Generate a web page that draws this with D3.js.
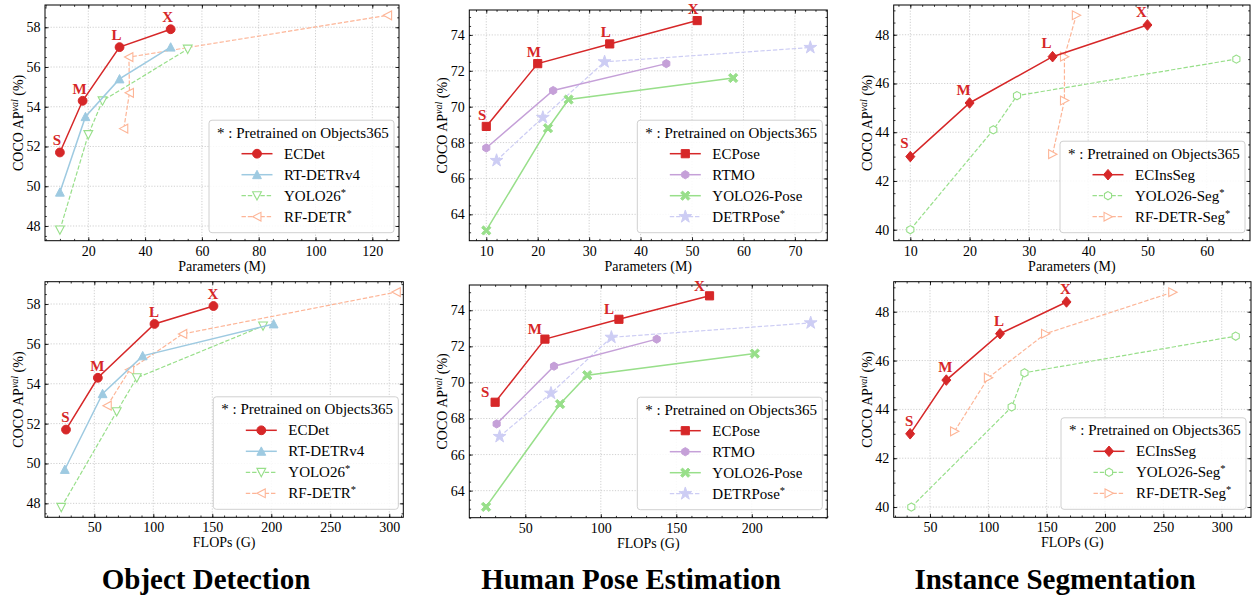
<!DOCTYPE html>
<html><head><meta charset="utf-8">
<script src="https://cdn.jsdelivr.net/npm/d3@7"></script>
<style>body{margin:0;background:#fff} svg text{font-family:"Liberation Serif","Times New Roman",serif;fill:#000}</style>
</head><body><svg id="c" width="1255" height="598"></svg>
<script>
// ---------------- data ----------------
const sizeLabels = ["S", "M", "L", "X"];
// Object detection
const ecdetParams = [10, 18, 31, 49];
const ecdetFlops = [26, 53, 101, 151];
const ecdetAP = [51.7, 54.3, 57.0, 57.9];
const rtdetrParams = [10, 19, 31, 49];
const rtdetrFlops = [25, 57, 91, 202];
const rtdetrAP = [49.7, 53.5, 55.4, 57.0];
const yolo26Params = [10, 20, 25, 55];
const yolo26Flops = [22, 69, 86, 193];
const yolo26AP = [47.8, 52.6, 54.3, 56.9];
const rfdetrParams = [32.5, 34.5, 34.3, 125.4];
const rfdetrFlops = [61, 80, 125, 306];
const rfdetrAP = [52.9, 54.7, 56.5, 58.6];
// Human pose estimation
const ecposeParams = [10, 20, 34, 51];
const ecposeFlops = [30, 63, 112, 172];
const ecposeAP = [68.9, 72.4, 73.5, 74.8];
const rtmoParams = [10, 23, 45];
const rtmoFlops = [31, 69, 137];
const rtmoAP = [67.7, 70.9, 72.4];
const yoloPoseParams = [10, 22, 26, 58];
const yoloPoseFlops = [24, 73, 91, 202];
const yoloPoseAP = [63.1, 68.8, 70.4, 71.6];
const detrposeParams = [12, 21, 33, 73];
const detrposeFlops = [33, 67, 107, 239];
const detrposeAP = [67.0, 69.4, 72.5, 73.3];
// Instance segmentation
const ecsegParams = [10, 20, 34, 50];
const ecsegFlops = [33, 64, 110, 167];
const ecsegAP = [43.0, 45.2, 47.1, 48.4];
const yoloSegParams = [10, 24, 28, 65];
const yoloSegFlops = [34, 120, 131, 312];
const yoloSegAP = [40.0, 44.1, 45.5, 47.0];
const rfSegParams = [34, 36, 36, 38];
const rfSegFlops = [71, 100, 149, 258];
const rfSegAP = [43.1, 45.3, 47.1, 48.8];
// tick labels
const detParamTicks = [20, 40, 60, 80, 100, 120];
const detFlopTicks = [50, 100, 150, 200, 250, 300];
const detAPTicks = [48, 50, 52, 54, 56, 58];
const poseParamTicks = [10, 20, 30, 40, 50, 60, 70];
const poseFlopTicks = [50, 100, 150, 200];
const poseAPTicks = [64, 66, 68, 70, 72, 74];
const segParamTicks = [10, 20, 30, 40, 50, 60];
const segFlopTicks = [50, 100, 150, 200, 250, 300];
const segAPTicks = [40, 42, 44, 46, 48];
const taskTitles = ["Object Detection", "Human Pose Estimation", "Instance Segmentation"];
const legendTitle = "* : Pretrained on Objects365";

// ---------------- styles ----------------
const RED = "#d62728", BLUE = "#9ecae1", GREEN = "#98df8a", SALMON = "#fdb597",
      LILAC = "#c5a0d8", LAV = "#cdcdf4";

function S(name, star, color, marker, filled, dashed, labels) {
  return {name, star, color, marker, filled, dashed, labels};
}
const detSeries = [
  S("ECDet", false, RED, "circle", true, false, true),
  S("RT-DETRv4", false, BLUE, "triup", true, false, false),
  S("YOLO26", true, GREEN, "tridown", false, true, false),
  S("RF-DETR", true, SALMON, "trileft", false, true, false)];
const poseSeries = [
  S("ECPose", false, RED, "square", true, false, true),
  S("RTMO", false, LILAC, "hex", true, false, false),
  S("YOLO26-Pose", false, GREEN, "xmark", true, false, false),
  S("DETRPose", true, LAV, "star", true, true, false)];
const segSeries = [
  S("ECInsSeg", false, RED, "diamond", true, false, true),
  S("YOLO26-Seg", true, GREEN, "hex", false, true, false),
  S("RF-DETR-Seg", true, SALMON, "triright", false, true, false)];

const panels = [
  {x0:45, x1:399, y0:5, y1:240.7, xd:[4.75,129.4], yd:[47.26,59.12], xt:detParamTicks, yt:detAPTicks, xs:20, ys:2, xn:4, yn:4,
   xl:"Parameters (M)", series:detSeries, xs_:[ecdetParams, rtdetrParams, yolo26Params, rfdetrParams], ys_:[ecdetAP, rtdetrAP, yolo26AP, rfdetrAP], lo:[-3,-12]},
  {x0:469.3, x1:827.3, y0:10, y1:240.7, xd:[6.7,76.3], yd:[62.53,75.39], xt:poseParamTicks, yt:poseAPTicks, xs:10, ys:2, xn:5, yn:4,
   xl:"Parameters (M)", series:poseSeries, xs_:[ecposeParams, rtmoParams, yoloPoseParams, detrposeParams], ys_:[ecposeAP, rtmoAP, yoloPoseAP, detrposeAP], lo:[-4,-11.5]},
  {x0:893.7, x1:1250, y0:5, y1:240.7, xd:[7.2,67.3], yd:[39.55,49.22], xt:segParamTicks, yt:segAPTicks, xs:10, ys:2, xn:5, yn:4,
   xl:"Parameters (M)", series:segSeries, xs_:[ecsegParams, yoloSegParams, rfSegParams], ys_:[ecsegAP, yoloSegAP, rfSegAP], lo:[-6,-13.3]},
  {x0:45, x1:403.3, y0:281.7, y1:517.3, xd:[8.2,311.9], yd:[47.3,59.12], xt:detFlopTicks, yt:detAPTicks, xs:50, ys:2, xn:5, yn:4,
   xl:"FLOPs (G)", series:detSeries, xs_:[ecdetFlops, rtdetrFlops, yolo26Flops, rfdetrFlops], ys_:[ecdetAP, rtdetrAP, yolo26AP, rfdetrAP], lo:[-0.5,-12.2]},
  {x0:469.3, x1:827.3, y0:285, y1:517.7, xd:[12.9,250], yd:[62.5,75.4], xt:poseFlopTicks, yt:poseAPTicks, xs:50, ys:2, xn:5, yn:4,
   xl:"FLOPs (G)", series:poseSeries, xs_:[ecposeFlops, rtmoFlops, yoloPoseFlops, detrposeFlops], ys_:[ecposeAP, rtmoAP, yoloPoseAP, detrposeAP], lo:[-10,-10]},
  {x0:893.7, x1:1251, y0:281.7, y1:517.3, xd:[18.9,325.1], yd:[39.58,49.23], xt:segFlopTicks, yt:segAPTicks, xs:50, ys:2, xn:5, yn:4,
   xl:"FLOPs (G)", series:segSeries, xs_:[ecsegFlops, yoloSegFlops, rfSegFlops], ys_:[ecsegAP, yoloSegAP, rfSegAP], lo:[-1,-13]}
];

function markerPath(type, r) {
  switch (type) {
    case "circle": return d3.symbol(d3.symbolCircle, Math.PI * r * r)();
    case "square": { const s = r * 0.95; return `M${-s},${-s}H${s}V${s}H${-s}Z`; }
    case "diamond": { const s = r * 1.2; return `M0,${-s}L${s*0.85},0L0,${s}L${-s*0.85},0Z`; }
    case "triup": return `M0,${-r}L${r},${r*0.9}L${-r},${r*0.9}Z`;
    case "tridown": return `M0,${r}L${r},${-r*0.9}L${-r},${-r*0.9}Z`;
    case "trileft": return `M${-r},0L${r*0.9},${-r}L${r*0.9},${r}Z`;
    case "triright": return `M${r},0L${-r*0.9},${-r}L${-r*0.9},${r}Z`;
    case "hex": { let p = ""; for (let k = 0; k < 6; k++) { const a = (90 + 60 * k) * Math.PI / 180; p += (k ? "L" : "M") + (r * Math.cos(a)).toFixed(2) + "," + (-r * Math.sin(a)).toFixed(2); } return p + "Z"; }
    case "star": return d3.symbol(d3.symbolStar, r * r * 2.2)();
    case "xmark": { const a = r * 1.05, w = r * 0.42; return `M${-a+w},${-a}L0,${-w}L${a-w},${-a}L${a},${-a+w}L${w},0L${a},${a-w}L${a-w},${a}L0,${w}L${-a+w},${a}L${-a},${a-w}L${-w},0L${-a},${-a+w}Z`; }
  }
}

function drawMarker(g, s, x, y) {
  const r = s.marker === "square" ? 4.3 : s.marker === "star" ? 4.8 : s.marker === "hex" ? 4.1 : 4.4;
  g.append("path").attr("d", markerPath(s.marker, r)).attr("transform", `translate(${x},${y})`)
    .attr("fill", s.filled ? s.color : "#fff").attr("stroke", s.color).attr("stroke-width", s.filled ? 1 : 1.1);
}

function nameText(sel, s) {
  sel.text(s.name);
  if (s.star) sel.append("tspan").attr("font-size", 10.5).attr("dy", -5).text("*");
}

const svg = d3.select("#c");

panels.forEach((p, pi) => {
  const x = d3.scaleLinear().domain(p.xd).range([p.x0, p.x1]);
  const y = d3.scaleLinear().domain(p.yd).range([p.y1, p.y0]);
  const g = svg.append("g");
  const W = p.x1 - p.x0, H = p.y1 - p.y0;

  // grid
  const grid = g.append("g").attr("stroke", "#c4c4c4").attr("stroke-width", 0.8).attr("stroke-dasharray", "1.2,1.6");
  p.xt.forEach(t => grid.append("line").attr("x1", x(t)).attr("x2", x(t)).attr("y1", p.y0).attr("y2", p.y1));
  p.yt.forEach(t => grid.append("line").attr("y1", y(t)).attr("y2", y(t)).attr("x1", p.x0).attr("x2", p.x1));

  // axes with inward ticks on all sides
  const minorX = [], minorY = [];
  for (let v = Math.ceil(p.xd[0] / (p.xs / p.xn)) * (p.xs / p.xn); v <= p.xd[1]; v += p.xs / p.xn) minorX.push(+v.toFixed(6));
  for (let v = Math.ceil(p.yd[0] / (p.ys / p.yn)) * (p.ys / p.yn); v <= p.yd[1]; v += p.ys / p.yn) minorY.push(+v.toFixed(6));
  const ax = (gen, tr) => {
    const a = g.append("g").attr("transform", tr).call(gen);
    a.select(".domain").remove();
    a.selectAll("line").attr("stroke", "#000").attr("stroke-width", 0.8);
    return a;
  };
  ax(d3.axisBottom(x).tickValues(minorX).tickSize(-1.8).tickFormat(""), `translate(0,${p.y1})`);
  ax(d3.axisTop(x).tickValues(minorX).tickSize(-1.8).tickFormat(""), `translate(0,${p.y0})`);
  ax(d3.axisLeft(y).tickValues(minorY).tickSize(-1.8).tickFormat(""), `translate(${p.x0},0)`);
  ax(d3.axisRight(y).tickValues(minorY).tickSize(-1.8).tickFormat(""), `translate(${p.x1},0)`);
  const bx = ax(d3.axisBottom(x).tickValues(p.xt).tickSize(-3.5).tickPadding(6), `translate(0,${p.y1})`);
  bx.selectAll("text").attr("font-size", 14).attr("font-family", "Liberation Serif").attr("dy", "0.75em").attr("y", 4.5);
  ax(d3.axisTop(x).tickValues(p.xt).tickSize(-3.5).tickFormat(""), `translate(0,${p.y0})`);
  const ly = ax(d3.axisLeft(y).tickValues(p.yt).tickSize(-3.5).tickPadding(5), `translate(${p.x0},0)`);
  ly.selectAll("text").attr("font-size", 14).attr("font-family", "Liberation Serif").attr("x", -4.5);
  ax(d3.axisRight(y).tickValues(p.yt).tickSize(-3.5).tickFormat(""), `translate(${p.x1},0)`);

  g.append("rect").attr("x", p.x0).attr("y", p.y0).attr("width", W).attr("height", H)
    .attr("fill", "none").attr("stroke", "#000").attr("stroke-width", 1);

  // series (draw reference method last so it sits on top)
  const order = d3.range(p.series.length).reverse();
  order.forEach(i => {
    const s = p.series[i], xs = p.xs_[i], ys = p.ys_[i];
    const pts = xs.map((v, k) => [x(v), y(ys[k])]);
    g.append("path").attr("d", d3.line()(pts)).attr("fill", "none").attr("stroke", s.color)
      .attr("stroke-width", s.dashed ? 1.2 : 1.5).attr("stroke-dasharray", s.dashed ? "4.4,1.9" : null);
    pts.forEach(pt => drawMarker(g, s, pt[0], pt[1]));
    if (s.labels) {
      pts.forEach((pt, k) => g.append("text").attr("x", pt[0] + p.lo[0]).attr("y", pt[1] + p.lo[1] + 5)
        .attr("text-anchor", "middle").attr("font-weight", "bold").attr("font-size", 15)
        .style("fill", RED).text(sizeLabels[k]));
    }
  });

  // legend
  const n = p.series.length, lw = 185, lh = 33.5 + (n - 1) * 21 + 16;
  const lx = p.x1 - 5 - lw, ly0 = p.y1 - 8 - lh;
  const lg = g.append("g");
  lg.append("rect").attr("x", lx).attr("y", ly0).attr("width", lw).attr("height", lh).attr("rx", 3)
    .attr("fill", "#fff").attr("fill-opacity", 0.85).attr("stroke", "#d0d0d0").attr("stroke-width", 1);
  lg.append("text").attr("x", lx + 8).attr("y", ly0 + 12.6 + 5).attr("font-size", 15).text(legendTitle);
  p.series.forEach((s, i) => {
    const cy = ly0 + 33.5 + i * 21;
    lg.append("line").attr("x1", lx + 32.5).attr("x2", lx + 63.5).attr("y1", cy).attr("y2", cy)
      .attr("stroke", s.color).attr("stroke-width", s.dashed ? 1.2 : 1.5).attr("stroke-dasharray", s.dashed ? "4.4,1.9" : null);
    drawMarker(lg, s, lx + 48, cy);
    lg.append("text").attr("x", lx + 75).attr("y", cy + 5).attr("font-size", 15).call(nameText, s);
  });

  // axis labels
  g.append("text").attr("x", (p.x0 + p.x1) / 2).attr("y", p.y1 + 30).attr("text-anchor", "middle")
    .attr("font-size", 14).text(p.xl);
  const yl = g.append("text").attr("transform", `translate(${p.x0 - 22},${(p.y0 + p.y1) / 2}) rotate(-90)`)
    .attr("text-anchor", "middle").attr("font-size", 14);
  yl.append("tspan").text("COCO AP");
  yl.append("tspan").attr("font-style", "italic").attr("font-size", 10).attr("dy", -5).text("val");
  yl.append("tspan").attr("dy", 5).text(" (%)");
});

// task titles
const titleX = [206, 631, 1055];
taskTitles.forEach((t, i) => svg.append("text").attr("x", titleX[i]).attr("y", 589).attr("text-anchor", "middle")
  .attr("font-size", 29).attr("font-weight", "bold").text(t));
</script></body></html>
